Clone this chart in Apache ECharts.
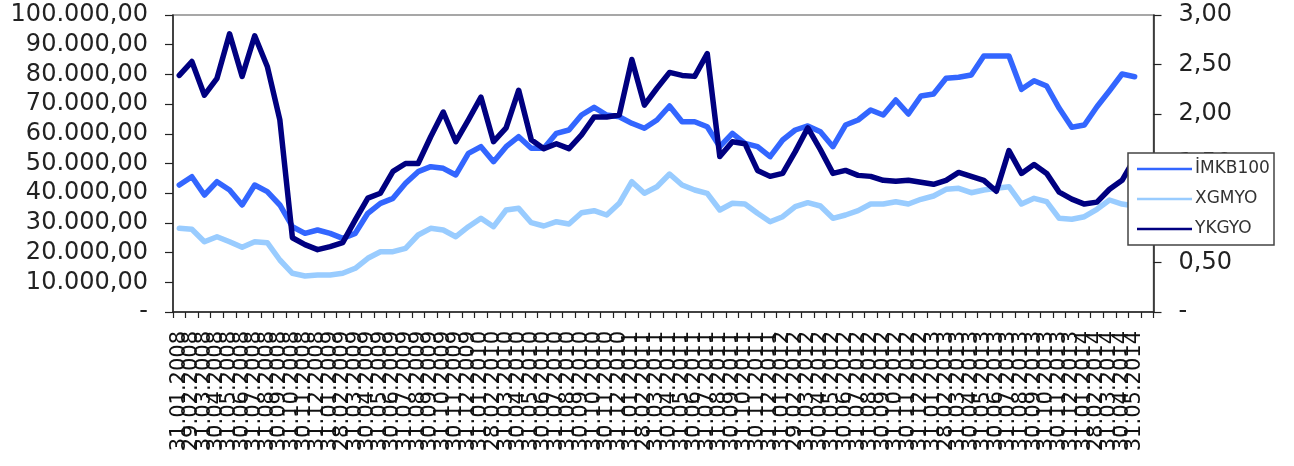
<!DOCTYPE html>
<html>
<head>
<meta charset="utf-8">
<script src="https://cdn.jsdelivr.net/npm/echarts@6/dist/echarts.min.js"></script>
<style>
html,body{margin:0;padding:0;background:#fff;}
#c{width:1294px;height:466px;}
</style>
</head>
<body>
<div id="c"></div>
<script>
const categories = [
'31.01.2008','29.02.2008','31.03.2008','30.04.2008','31.05.2008','30.06.2008','31.07.2008','31.08.2008','30.09.2008','31.10.2008','30.11.2008','31.12.2008',
'31.01.2009','28.02.2009','31.03.2009','30.04.2009','31.05.2009','30.06.2009','31.07.2009','31.08.2009','30.09.2009','31.10.2009','30.11.2009','31.12.2009',
'31.01.2010','28.02.2010','31.03.2010','30.04.2010','31.05.2010','30.06.2010','31.07.2010','31.08.2010','30.09.2010','31.10.2010','30.11.2010','31.12.2010',
'31.01.2011','28.02.2011','31.03.2011','30.04.2011','31.05.2011','30.06.2011','31.07.2011','31.08.2011','30.09.2011','31.10.2011','30.11.2011','31.12.2011',
'31.01.2012','29.02.2012','31.03.2012','30.04.2012','31.05.2012','30.06.2012','31.07.2012','31.08.2012','30.09.2012','31.10.2012','30.11.2012','31.12.2012',
'31.01.2013','28.02.2013','31.03.2013','30.04.2013','31.05.2013','30.06.2013','31.07.2013','31.08.2013','30.09.2013','31.10.2013','30.11.2013','31.12.2013',
'31.01.2014','28.02.2014','31.03.2014','30.04.2014','31.05.2014',''
];

const seriesNames = ['İMKB100','XGMYO','YKGYO'];
const seriesColors = ['#3366FF','#99CCFF','#000080'];

const imkb100 = [42760,45560,39390,43870,41080,36030,42760,40510,36030,28720,
26490,27610,26490,24800,26490,33220,36590,38270,43320,47250,
48930,48370,46130,53420,55670,50610,55660,59020,55120,55120,
60170,61280,66330,68920,66330,65760,63530,61850,64650,69360,
64070,64070,62390,55660,60170,56800,55660,52290,57910,61280,
62630,60710,55660,62960,64650,68010,66330,71380,66670,72730,
73400,78690,79020,79800,86200,86200,86200,74980,77880,76090,
68580,62190,62960,69130,74510,80130,79230];

const xgmyo = [28180,27840,23670,25350,23670,21780,23670,23330,17510,13030,
12120,12460,12460,13030,14710,18080,20300,20300,21450,25930,
28180,27610,25350,28720,31550,28720,34340,34910,30070,28960,
30400,29630,33430,34110,32660,36600,43870,39970,42190,46460,
42760,41080,39970,34340,36600,36360,33230,30400,32090,35450,
36800,35690,31550,32660,34110,36360,36360,37140,36360,37950,
39060,41310,41650,40170,41080,41650,42190,36360,38280,37140,
31550,31210,32090,34580,37710,36360,35690];

const ykgyo = [2.39,2.53,2.19,2.36,2.81,2.38,2.79,2.48,1.94,0.75,
0.68,0.63,0.66,0.70,0.93,1.15,1.20,1.42,1.50,1.50,
1.77,2.02,1.72,1.94,2.17,1.72,1.86,2.24,1.74,1.65,
1.70,1.65,1.79,1.97,1.97,1.99,2.55,2.09,2.26,2.42,
2.39,2.38,2.61,1.57,1.72,1.70,1.43,1.37,1.40,1.62,
1.86,1.64,1.40,1.43,1.38,1.37,1.33,1.32,1.33,1.31,
1.29,1.33,1.41,1.37,1.33,1.22,1.63,1.40,1.49,1.40,
1.21,1.14,1.09,1.11,1.24,1.33,1.55];

function trFormat(v){
  if (Math.abs(v) < 1e-9) return '-';
  const s = v.toFixed(2);
  const parts = s.split('.');
  const intPart = parts[0].replace(/\B(?=(\d{3})+(?!\d))/g, '.');
  return intPart + ',' + parts[1];
}

const FONT = 'DejaVu Sans';

// legend box drawn with graphic elements (key box, not data marks)
const LEG_X = 1128, LEG_Y = 153, LEG_W = 146, LEG_H = 92;
const legendGraphics = [
  {type:'rect', z:100, shape:{x:LEG_X, y:LEG_Y, width:LEG_W, height:LEG_H},
   style:{fill:'#ffffff', stroke:'#444', lineWidth:1.5}}
];
seriesNames.forEach(function(n, i){
  const cy = LEG_Y + 16 + i * 30;
  legendGraphics.push({type:'line', z:101, shape:{x1:LEG_X+9, y1:cy, x2:LEG_X+64, y2:cy},
    style:{stroke:seriesColors[i], lineWidth:2.5}});
  legendGraphics.push({type:'text', z:101, x:LEG_X+67, y:cy,
    style:{text:n, fill:'#333', font:'17px "DejaVu Sans"', textVerticalAlign:'middle', verticalAlign:'middle'}});
});

const chart = echarts.init(document.getElementById('c'), null, {renderer:'canvas'});
chart.setOption({
  backgroundColor:'#ffffff',
  animation:false,
  grid:{left:173, right:140.5, top:15, bottom:154, show:true, borderColor:'#8a8a8a', borderWidth:1.5, backgroundColor:'transparent'},
  legend:{show:false, data:seriesNames},
  graphic:{elements:legendGraphics},
  xAxis:{
    type:'category', data:categories, boundaryGap:true,
    axisLine:{lineStyle:{color:'#222', width:1.5}},
    axisTick:{show:true, interval:0, length:6, lineStyle:{color:'#222', width:1.2}},
    axisLabel:{interval:0, rotate:90, fontFamily:FONT, fontSize:21, color:'#111', margin:19},
    splitLine:{show:false}
  },
  yAxis:[
    {type:'value', min:0, max:100000, interval:10000, position:'left',
     axisLine:{show:true, lineStyle:{color:'#222', width:1.5}},
     axisTick:{show:true, length:8, lineStyle:{color:'#222', width:1.2}},
     axisLabel:{formatter:trFormat, fontFamily:FONT, fontSize:24, color:'#222', margin:25},
     splitLine:{show:false}},
    {type:'value', min:0, max:3, interval:0.5, position:'right',
     axisLine:{show:true, lineStyle:{color:'#222', width:1.5}},
     axisTick:{show:true, length:8, lineStyle:{color:'#222', width:1.2}},
     axisLabel:{formatter:trFormat, fontFamily:FONT, fontSize:24, color:'#222', margin:25},
     splitLine:{show:false}}
  ],
  series:[
    {name:seriesNames[0], type:'line', data:imkb100, yAxisIndex:0, showSymbol:false, symbol:'none',
     color:seriesColors[0], lineStyle:{color:seriesColors[0], width:5.5, cap:'round', join:'round'}},
    {name:seriesNames[1], type:'line', data:xgmyo, yAxisIndex:0, showSymbol:false, symbol:'none',
     color:seriesColors[1], lineStyle:{color:seriesColors[1], width:5.5, cap:'round', join:'round'}, z:1},
    {name:seriesNames[2], type:'line', data:ykgyo, yAxisIndex:1, showSymbol:false, symbol:'none',
     color:seriesColors[2], lineStyle:{color:seriesColors[2], width:5.5, cap:'round', join:'round'}, z:3}
  ]
});
</script>
</body>
</html>
